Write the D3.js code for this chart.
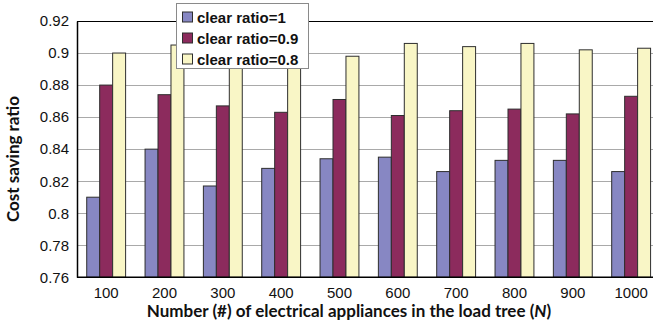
<!DOCTYPE html>
<html>
<head>
<meta charset="utf-8">
<script src="https://cdn.jsdelivr.net/npm/d3@7"></script>
<style>
  html, body { margin: 0; padding: 0; background: #fff; }
  svg { display: block; }
</style>
</head>
<body>
<svg id="chart" width="653" height="325"></svg>
<script>
// Number of appliances in the load tree
const categories = ["100", "200", "300", "400", "500", "600", "700", "800", "900", "1000"];
const seriesNames = ["clear ratio=1", "clear ratio=0.9", "clear ratio=0.8"];
const ratio1 =  [0.810, 0.840, 0.817, 0.828, 0.834, 0.835, 0.826, 0.833, 0.833, 0.826];
const ratio09 = [0.880, 0.874, 0.867, 0.863, 0.871, 0.861, 0.864, 0.865, 0.862, 0.873];
const ratio08 = [0.900, 0.905, 0.903, 0.905, 0.898, 0.906, 0.904, 0.906, 0.902, 0.903];
const yTicks = [0.76, 0.78, 0.8, 0.82, 0.84, 0.86, 0.88, 0.9, 0.92];
const colors = ["#8787c3", "#8c2b5d", "#f9f6c6"];

const series = [ratio1, ratio09, ratio08];

const svg = d3.select("#chart");
const plot = { left: 77, top: 21, right: 660.3, bottom: 277.3 };

const x0 = d3.scaleBand()
  .domain(categories)
  .range([plot.left, plot.right])
  .paddingInner(1 / 3)
  .paddingOuter(1 / 6);

const x1 = d3.scaleBand()
  .domain(d3.range(seriesNames.length))
  .range([0, x0.bandwidth()]);

const y = d3.scaleLinear()
  .domain([0.76, 0.92])
  .range([plot.bottom, plot.top]);

// horizontal gridlines
svg.append("g")
  .selectAll("line")
  .data(yTicks.filter(t => t > 0.76 && t < 0.92))
  .join("line")
  .attr("x1", plot.left)
  .attr("x2", 653)
  .attr("y1", d => Math.round(y(d)) + 0.5)
  .attr("y2", d => Math.round(y(d)) + 0.5)
  .attr("stroke", "#a9a9a9")
  .attr("stroke-width", 1);

// top frame line
svg.append("line")
  .attr("x1", plot.left).attr("x2", 653)
  .attr("y1", Math.round(y(0.92)) + 0.5).attr("y2", Math.round(y(0.92)) + 0.5)
  .attr("stroke", "#000").attr("stroke-width", 1.2);

// bars
const groups = svg.append("g")
  .selectAll("g")
  .data(categories)
  .join("g")
  .attr("transform", d => `translate(${x0(d)},0)`);

groups.selectAll("rect")
  .data((d, i) => series.map((s, k) => ({ k, v: s[i] })))
  .join("rect")
  .attr("x", d => x1(d.k))
  .attr("width", x1.bandwidth())
  .attr("y", d => y(d.v))
  .attr("height", d => y(0.76) - y(d.v))
  .attr("fill", d => colors[d.k])
  .attr("stroke", "#2e2e2e")
  .attr("stroke-width", 1);

// y axis
const yAxis = svg.append("g")
  .attr("transform", `translate(${plot.left},0)`)
  .call(d3.axisLeft(y).tickValues(yTicks).tickFormat(d => d3.format("")(+d.toFixed(2))).tickSize(0).tickPadding(8));
yAxis.select(".domain").attr("stroke", "#000").attr("stroke-width", 1.5);
yAxis.selectAll("text")
  .attr("font-family", "Liberation Sans, Arial, sans-serif")
  .attr("font-size", 15)
  .attr("fill", "#111");

// x axis
const xAxis = svg.append("g")
  .attr("transform", `translate(0,${plot.bottom})`)
  .call(d3.axisBottom(x0).tickSize(0).tickPadding(10));
xAxis.select(".domain").attr("stroke", "#000").attr("stroke-width", 1.5)
  .attr("d", `M${plot.left},0H653`);
xAxis.selectAll(".tick").attr("transform", d => `translate(${x0(d) + x0.bandwidth() / 2},0)`);
xAxis.selectAll("text")
  .attr("font-family", "Liberation Sans, Arial, sans-serif")
  .attr("font-size", 15)
  .attr("fill", "#111");

// axis titles
svg.append("text")
  .attr("transform", "translate(19,159) rotate(-90)")
  .attr("text-anchor", "middle")
  .attr("font-family", "Lato, 'Open Sans', sans-serif")
  .attr("font-weight", "bold")
  .attr("font-size", 17)
  .attr("fill", "#111")
  .text("Cost saving ratio");

const xTitle = svg.append("text")
  .attr("x", 349)
  .attr("y", 317)
  .attr("text-anchor", "middle")
  .attr("font-family", "Lato, 'Open Sans', sans-serif")
  .attr("font-weight", "bold")
  .attr("font-size", 17)
  .attr("fill", "#111");
xTitle.append("tspan").text("Number (#) of electrical appliances in the load tree (");
xTitle.append("tspan").attr("font-style", "italic").text("N");
xTitle.append("tspan").text(")");

// legend
const legend = svg.append("g").attr("transform", "translate(176,3)");
legend.append("rect")
  .attr("x", 0.5).attr("y", 0.5)
  .attr("width", 132).attr("height", 65)
  .attr("fill", "#fff")
  .attr("stroke", "#8a8a8a")
  .attr("stroke-width", 1);

const items = legend.selectAll("g.item")
  .data(seriesNames)
  .join("g")
  .attr("class", "item")
  .attr("transform", (d, i) => `translate(6,${8.5 + i * 21})`);
items.append("rect")
  .attr("x", 0.5).attr("y", 0.5)
  .attr("width", 10).attr("height", 10)
  .attr("fill", (d, i) => colors[i])
  .attr("stroke", "#2e2e2e")
  .attr("stroke-width", 1);
items.append("text")
  .attr("x", 15)
  .attr("y", 11)
  .attr("font-family", "Liberation Sans, Arial, sans-serif")
  .attr("font-weight", "bold")
  .attr("font-size", 15)
  .attr("fill", "#111")
  .text(d => d);
</script>
</body>
</html>
